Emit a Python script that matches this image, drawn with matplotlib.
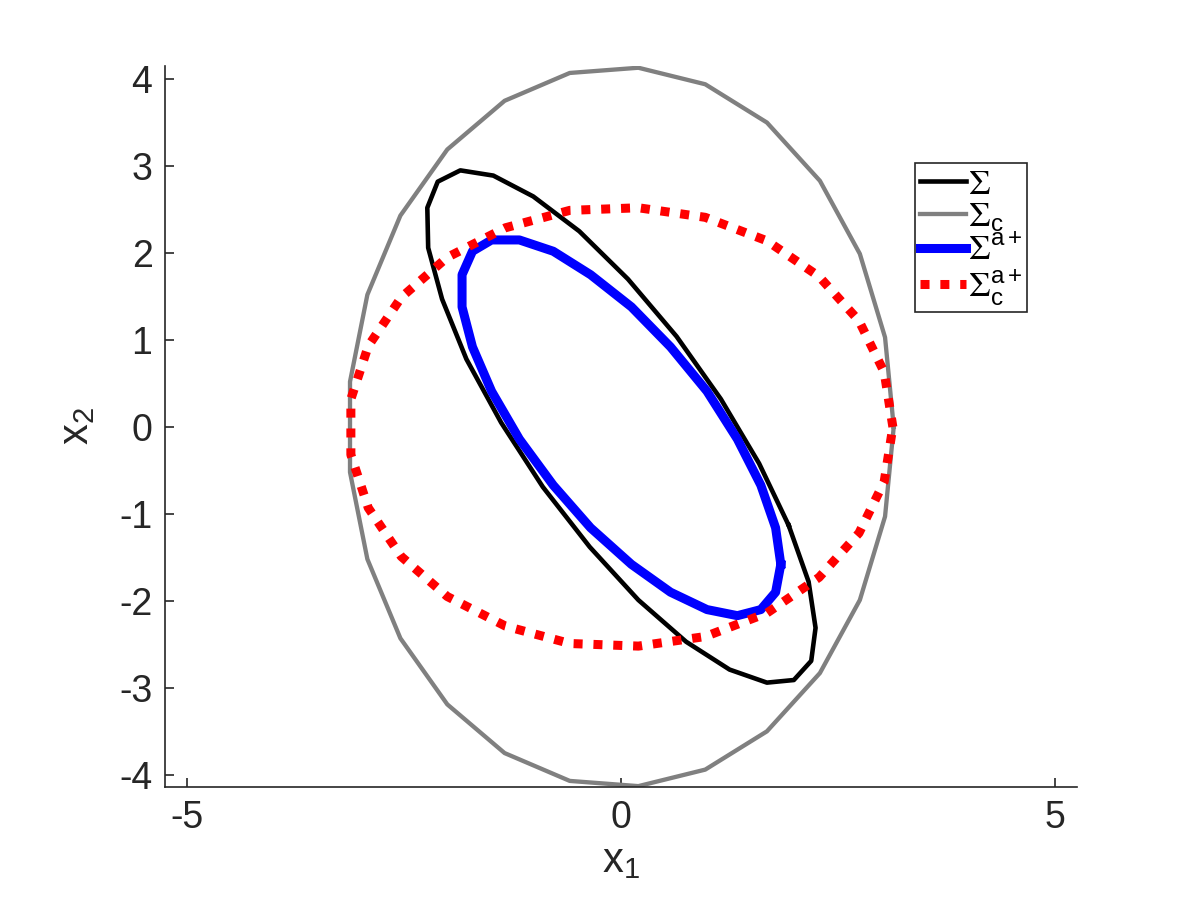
import numpy as np
import matplotlib
matplotlib.use("Agg")
import matplotlib.pyplot as plt

plt.rcParams['font.family'] = ['Liberation Sans', 'DejaVu Sans']
plt.rcParams['mathtext.fontset'] = 'custom'
plt.rcParams['mathtext.rm'] = 'Liberation Sans'
plt.rcParams['mathtext.it'] = 'Liberation Sans'
plt.rcParams['mathtext.sf'] = 'Liberation Sans'
plt.rcParams['mathtext.cal'] = 'STIXGeneral'
plt.rcParams['axes.unicode_minus'] = False

# ellipse vertices (x1, x2)
sigma_x = [1.93, 1.59, 1.15, 0.64, 0.08, -0.48, -1.01, -1.47, -1.85, -2.11, -2.23, -2.22, -2.06,
           -1.78, -1.38, -0.90, -0.36, 0.20, 0.75, 1.25, 1.68, 1.99, 2.19, 2.24, 2.16, 1.93]
sigma_y = [-1.13, -0.42, 0.32, 1.04, 1.70, 2.25, 2.65, 2.89, 2.95, 2.82, 2.52, 2.06, 1.47,
           0.78, 0.05, -0.69, -1.38, -1.99, -2.47, -2.79, -2.94, -2.91, -2.69, -2.31, -1.78, -1.13]

sigma_c_x = [3.14, 3.04, 2.75, 2.29, 1.68, 0.97, 0.20, -0.59, -1.34, -2.00, -2.54, -2.92, -3.12,
             -3.12, -2.92, -2.54, -2.00, -1.34, -0.59, 0.20, 0.97, 1.68, 2.29, 2.75, 3.04, 3.14]
sigma_c_y = [0.00, 1.03, 1.99, 2.83, 3.50, 3.94, 4.13, 4.07, 3.75, 3.19, 2.43, 1.52, 0.52,
             -0.52, -1.52, -2.43, -3.19, -3.75, -4.07, -4.13, -3.94, -3.50, -2.83, -1.99, -1.03, 0.00]

sigma_a_x = [1.84, 1.78, 1.61, 1.34, 0.99, 0.57, 0.12, -0.35, -0.78, -1.17, -1.49, -1.71, -1.83,
             -1.83, -1.71, -1.49, -1.17, -0.78, -0.35, 0.12, 0.57, 0.99, 1.34, 1.61, 1.78, 1.84]
sigma_a_y = [-1.58, -1.16, -0.67, -0.14, 0.41, 0.92, 1.38, 1.75, 2.02, 2.15, 2.15, 2.02, 1.75,
             1.38, 0.92, 0.41, -0.14, -0.67, -1.16, -1.58, -1.90, -2.10, -2.17, -2.10, -1.90, -1.58]

sigma_ca_x = [3.13, 3.03, 2.74, 2.28, 1.68, 0.97, 0.20, -0.59, -1.33, -2.00, -2.53, -2.91, -3.11,
              -3.11, -2.91, -2.53, -2.00, -1.33, -0.59, 0.20, 0.97, 1.68, 2.28, 2.74, 3.03, 3.13]
sigma_ca_y = [0.00, 0.63, 1.22, 1.73, 2.14, 2.41, 2.52, 2.49, 2.29, 1.95, 1.49, 0.93, 0.32,
              -0.32, -0.93, -1.49, -1.95, -2.29, -2.49, -2.52, -2.41, -2.14, -1.73, -1.22, -0.63, 0.00]

labels = [r'$\mathcal{\Sigma}$', r'$\mathcal{\Sigma}_{\mathrm{c}}$',
          r'$\mathcal{\Sigma}^{\mathrm{a+}}$', r'$\mathcal{\Sigma}_{\mathrm{c}}^{\mathrm{a+}}$']

fig = plt.figure(figsize=(12, 9), dpi=100)
ax = fig.add_axes([165/1200, 113/900, 912/1200, 721/900])

ax.plot(sigma_x, sigma_y, color='black', lw=3.3, label=labels[0])
ax.plot(sigma_c_x, sigma_c_y, color='#808080', lw=3.1, label=labels[1])
ax.plot(sigma_a_x, sigma_a_y, color='#0000ff', lw=6.5, label=labels[2])
ax.plot(sigma_ca_x, sigma_ca_y, color='#ff0000', lw=6.5, ls=(0, (1.0, 1.2)),
        dash_capstyle='butt', label=labels[3])

ax.set_xlim(-5.25, 5.25)
ax.set_ylim(-4.14, 4.15)
ax.set_xticks([-5, 0, 5])
ax.set_yticks(np.arange(-4, 5))
for s in ['top', 'right']:
    ax.spines[s].set_visible(False)
for s in ['left', 'bottom']:
    ax.spines[s].set_color('#262626')
    ax.spines[s].set_linewidth(1.2)
ax.tick_params(direction='in', length=6.5, width=1.2, colors='#262626', labelsize=27, pad=9)

ax.set_xlabel(r'x$_\mathrm{1}$', fontsize=30, color='#262626', labelpad=4)
ax.set_ylabel(r'x$_\mathrm{2}$', fontsize=30, color='#262626', labelpad=16)

leg = ax.legend(loc='upper right', bbox_to_anchor=(0.945, 0.865), fontsize=25,
                fancybox=False, edgecolor='#262626', framealpha=1, borderaxespad=0,
                handlelength=1.35, handletextpad=0.05, labelspacing=0.0, borderpad=0.12)
leg.get_frame().set_linewidth(1.2)

fig.savefig('out.png', dpi=100)
